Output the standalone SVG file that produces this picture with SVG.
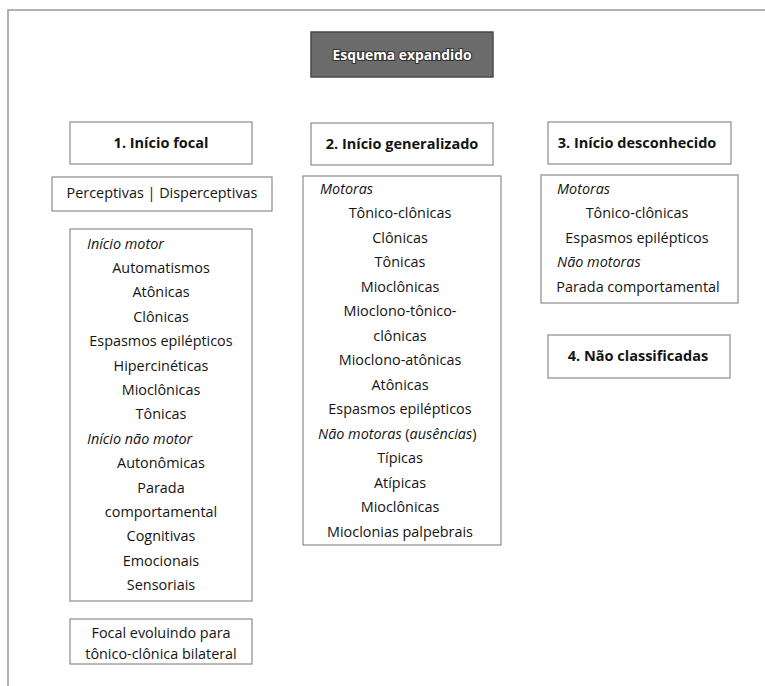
<svg xmlns="http://www.w3.org/2000/svg" width="765" height="686" viewBox="0 0 765 686">
  <style>
    .box { fill: #ffffff; stroke: #8c8c8c; stroke-width: 1.2; }
    .frame { fill: none; stroke: #9a9a9a; stroke-width: 1.5; }
    .t { font-family: "Open Sans", "Noto Sans", sans-serif; font-size: 14.4px; fill: #141414; }
    .c { text-anchor: middle; }
    .i { font-style: italic; }
    .h { font-family: "Open Sans", "Noto Sans", sans-serif; font-size: 14.5px; font-weight: bold; fill: #141414; text-anchor: middle; }
    .title { font-family: "Open Sans", "Noto Sans", sans-serif; font-size: 14px; font-weight: bold; fill: #ffffff; stroke: #333333; stroke-width: 2.2; paint-order: stroke; text-anchor: middle; }
  </style>

  <!-- page frame (top and left rule) -->
  <path class="frame" d="M8 686 V10 H765"/>

  <g id="title">
    <rect x="311" y="32" width="182" height="45" fill="#6b6b6b" stroke="#4a4a4a" stroke-width="1.5"/>
    <text class="title" x="402" y="60" textLength="139" lengthAdjust="spacingAndGlyphs">Esquema expandido</text>
  </g>

  <!-- column 1: focal onset -->
  <g id="focal-header">
    <rect class="box" x="70" y="122" width="182" height="42"/>
    <text class="h" x="161" y="148">1. Início focal</text>
  </g>

  <g id="awareness">
    <rect class="box" x="52" y="177" width="220" height="34"/>
    <text class="t c" x="162" y="198">Perceptivas | Disperceptivas</text>
  </g>

  <g id="focal-types">
    <rect class="box" x="70" y="229" width="182" height="372"/>
    <text class="t i" x="87" y="248.5">Início motor</text>
    <text class="t c" x="161" y="272.9">Automatismos</text>
    <text class="t c" x="161" y="297.3">Atônicas</text>
    <text class="t c" x="161" y="321.7">Clônicas</text>
    <text class="t c" x="161" y="346.1">Espasmos epilépticos</text>
    <text class="t c" x="161" y="370.5">Hipercinéticas</text>
    <text class="t c" x="161" y="394.9">Mioclônicas</text>
    <text class="t c" x="161" y="419.3">Tônicas</text>
    <text class="t i" x="87" y="443.7">Início não motor</text>
    <text class="t c" x="161" y="468.1">Autonômicas</text>
    <text class="t c" x="161" y="492.5">Parada</text>
    <text class="t c" x="161" y="516.9">comportamental</text>
    <text class="t c" x="161" y="541.3">Cognitivas</text>
    <text class="t c" x="161" y="565.7">Emocionais</text>
    <text class="t c" x="161" y="590.1">Sensoriais</text>
  </g>

  <g id="focal-to-bilateral">
    <rect class="box" x="70" y="619" width="182" height="45"/>
    <text class="t c" x="161" y="638">Focal evoluindo para</text>
    <text class="t c" x="161" y="659">tônico-clônica bilateral</text>
  </g>

  <!-- column 2: generalized onset -->
  <g id="generalized-header">
    <rect class="box" x="311" y="123" width="182" height="42"/>
    <text class="h" x="402" y="149">2. Início generalizado</text>
  </g>

  <g id="generalized-types">
    <rect class="box" x="303" y="176" width="198" height="369"/>
    <text class="t i" x="320" y="193.5">Motoras</text>
    <text class="t c" x="400" y="218">Tônico-clônicas</text>
    <text class="t c" x="400" y="242.5">Clônicas</text>
    <text class="t c" x="400" y="267">Tônicas</text>
    <text class="t c" x="400" y="291.5">Mioclônicas</text>
    <text class="t c" x="400" y="316">Mioclono-tônico-</text>
    <text class="t c" x="400" y="340.5">clônicas</text>
    <text class="t c" x="400" y="365">Mioclono-atônicas</text>
    <text class="t c" x="400" y="389.5">Atônicas</text>
    <text class="t c" x="400" y="414">Espasmos epilépticos</text>
    <text class="t" x="318" y="438.5"><tspan class="i">Não motoras </tspan>(<tspan class="i">ausências</tspan>)</text>
    <text class="t c" x="400" y="463">Típicas</text>
    <text class="t c" x="400" y="487.5">Atípicas</text>
    <text class="t c" x="400" y="512">Mioclônicas</text>
    <text class="t c" x="400" y="536.5">Mioclonias palpebrais</text>
  </g>

  <!-- column 3: unknown onset -->
  <g id="unknown-header">
    <rect class="box" x="548" y="122" width="183" height="42"/>
    <text class="h" x="637" y="148">3. Início desconhecido</text>
  </g>

  <g id="unknown-types">
    <rect class="box" x="541" y="175" width="197" height="128"/>
    <text class="t i" x="557" y="193.5">Motoras</text>
    <text class="t c" x="637" y="218">Tônico-clônicas</text>
    <text class="t c" x="637" y="242.5">Espasmos epilépticos</text>
    <text class="t i" x="557" y="267">Não motoras</text>
    <text class="t c" x="638" y="291.5">Parada comportamental</text>
  </g>

  <g id="unclassified">
    <rect class="box" x="548" y="335" width="182" height="43"/>
    <text class="h" x="638" y="361">4. Não classificadas</text>
  </g>

  <!-- no connectors are drawn between the boxes -->
  <g id="connectors"/>
</svg>
